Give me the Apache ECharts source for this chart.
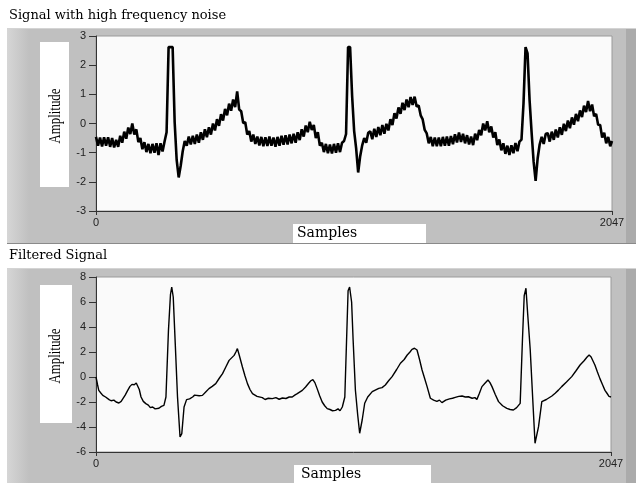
<!DOCTYPE html>
<html><head><meta charset="utf-8">
<script src="https://cdn.jsdelivr.net/npm/echarts@6/dist/echarts.min.js"></script>
<style>html,body{margin:0;padding:0;background:#fff}#c{width:636px;height:483px}</style>
</head><body><div id="c"></div>
<script>
// ---- data ----
const titles = ['Signal with high frequency noise', 'Filtered Signal'];
const yAxisName = 'Amplitude';
const xAxisName = 'Samples';
const xTicks = [0, 2047];
const topYTicks = [-3, -2, -1, 0, 1, 2, 3];
const bottomYTicks = [-6, -4, -2, 0, 2, 4, 6, 8];
const noisyStep = 8; // one value every 8 samples, last value at 2047
const noisyValues = [
 -0.46, -0.76, -0.48, -0.79, -0.47, -0.76, -0.47, -0.8,
 -0.5, -0.82, -0.56, -0.8, -0.42, -0.66, -0.28, -0.52,
 -0.14, -0.36, 0.0, -0.38, -0.2, -0.64, -0.5, -0.88,
 -0.64, -0.98, -0.7, -1.02, -0.7, -1.0, -0.68, -1.08,
 -0.68, -0.96, -0.62, -0.3, 2.62, 2.62, 2.62, 0.05,
 -1.25, -1.85, -1.45, -0.95, -0.6, -0.76, -0.45, -0.72,
 -0.42, -0.7, -0.38, -0.66, -0.3, -0.56, -0.2, -0.47,
 -0.13, -0.38, 0.0, -0.24, 0.15, -0.08, 0.32, 0.1,
 0.5, 0.28, 0.68, 0.44, 0.82, 0.56, 1.1, 0.48,
 0.42, 0.02, 0.04, -0.38, -0.26, -0.62, -0.38, -0.7,
 -0.45, -0.75, -0.46, -0.78, -0.47, -0.77, -0.45, -0.76,
 -0.48, -0.8, -0.46, -0.76, -0.42, -0.73, -0.4, -0.72,
 -0.38, -0.68, -0.35, -0.66, -0.3, -0.57, -0.2, -0.45,
 -0.07, -0.3, 0.06, -0.22, -0.05, -0.5, -0.3, -0.76,
 -0.66, -0.98, -0.7, -1.02, -0.72, -1.03, -0.7, -1.0,
 -0.68, -0.98, -0.66, -0.6, -0.36, 2.62, 2.62, 0.95,
 -0.25, -0.85, -1.68, -1.12, -0.75, -0.5, -0.66, -0.32,
 -0.27, -0.54, -0.18, -0.46, -0.12, -0.4, -0.05, -0.35,
 -0.01, -0.24, 0.15, -0.05, 0.35, 0.17, 0.55, 0.33,
 0.71, 0.46, 0.82, 0.56, 0.91, 0.64, 0.92, 0.58,
 0.62, 0.28, 0.14, -0.22, -0.34, -0.68, -0.46, -0.78,
 -0.48, -0.78, -0.48, -0.78, -0.46, -0.76, -0.45, -0.76,
 -0.43, -0.71, -0.37, -0.65, -0.31, -0.63, -0.35, -0.68,
 -0.4, -0.72, -0.45, -0.74, -0.35, -0.57, -0.22, -0.4,
 0.0, -0.24, 0.08, -0.3, -0.1, -0.48, -0.3, -0.74,
 -0.55, -0.92, -0.68, -1.04, -0.76, -1.08, -0.75, -1.02,
 -0.67, -0.95, -0.62, -0.55, 0.7, 2.62, 2.4, 0.8,
 -0.3, -1.3, -1.97, -1.2, -0.72, -0.46, -0.7, -0.36,
 -0.33, -0.62, -0.28, -0.56, -0.21, -0.48, -0.13, -0.39,
 -0.01, -0.26, 0.1, -0.16, 0.21, -0.04, 0.33, 0.08,
 0.45, 0.22, 0.61, 0.39, 0.77, 0.42, 0.65, 0.25,
 0.33, -0.04, -0.05, -0.48, -0.32, -0.68, -0.46, -0.78,
 -0.6
];
const filteredSamples = [
 0, 6, 11, 20, 27, 38, 45, 52, 60, 71, 80, 91, 100, 106, 116, 126, 135, 143, 152, 160,
 165, 172, 179, 188, 198, 208, 216, 225, 235, 242, 250, 260, 270, 278, 288, 296, 301, 307, 315, 324,
 334, 341, 350, 360, 372, 384, 392, 397, 410, 423, 436, 449, 462, 476, 490, 503, 516, 529, 540, 549,
 556, 562, 570, 582, 592, 602, 612, 622, 640, 661, 672, 685, 701, 715, 728, 741, 755, 768, 780, 790,
 800, 820, 833, 846, 854, 862, 870, 879, 889, 899, 909, 919, 930, 940, 952, 962, 970, 979, 989, 1002,
 1008, 1012, 1016, 1022, 1031, 1040, 1048, 1058, 1068, 1080, 1098, 1110, 1124, 1137, 1150, 1163, 1177, 1195, 1210, 1225,
 1237, 1248, 1256, 1266, 1276, 1286, 1296, 1306, 1316, 1329, 1342, 1355, 1365, 1375, 1390, 1405, 1417, 1428, 1442, 1455,
 1468, 1480, 1495, 1506, 1514, 1524, 1534, 1546, 1558, 1566, 1574, 1587, 1600, 1616, 1633, 1646, 1659, 1672, 1686, 1695,
 1702, 1709, 1716, 1726, 1736, 1745, 1759, 1772, 1790, 1812, 1825, 1838, 1851, 1870, 1891, 1908, 1924, 1940, 1952, 1960,
 1968, 1983, 1993, 2003, 2013, 2023, 2031, 2039, 2047
];
const filteredValues = [
 0.0, -0.6, -1.07, -1.3, -1.47, -1.6, -1.75, -1.81, -1.9, -1.85, -2.0, -2.08, -1.95, -1.87, -1.45, -1.07, -0.75, -0.59, -0.62, -0.48,
 -0.48, -1.0, -1.6, -1.95, -2.13, -2.25, -2.45, -2.4, -2.55, -2.4, -2.5, -2.35, -2.27, -1.6, 3.73, 6.6, 7.2, 6.4, 2.67, -1.6,
 -4.8, -4.53, -2.4, -1.81, -1.75, -1.6, -1.45, -1.33, -1.5, -1.47, -1.2, -0.93, -0.75, -0.53, -0.1, 0.27, 0.8, 1.33, 1.55, 1.73,
 2.0, 2.27, 1.7, 0.8, 0.1, -0.53, -1.0, -1.33, -1.55, -1.65, -1.8, -1.7, -1.73, -1.65, -1.78, -1.68, -1.72, -1.6, -1.6, -1.45,
 -1.33, -1.07, -0.8, -0.48, -0.3, -0.21, -0.45, -0.93, -1.5, -2.0, -2.3, -2.53, -2.6, -2.7, -2.67, -2.55, -2.7, -2.4, -1.6, 6.9,
 7.2, 7.1, 6.0, 2.96, -1.04, -3.0, -4.5, -3.44, -2.1, -1.6, -1.17, -1.05, -0.91, -0.85, -0.64, -0.3, 0.03, 0.6, 1.1, 1.4,
 1.76, 2.0, 2.21, 2.3, 2.16, 1.4, 0.56, -0.1, -0.77, -1.7, -1.85, -1.95, -1.85, -2.05, -1.85, -1.75, -1.7, -1.63, -1.55, -1.52,
 -1.6, -1.58, -1.7, -1.65, -1.79, -1.3, -0.77, -0.5, -0.24, -0.45, -0.77, -1.4, -1.97, -2.3, -2.51, -2.6, -2.64, -2.45, -2.11, 2.96,
 6.5, 7.1, 5.0, 2.16, -1.8, -5.3, -3.97, -1.97, -1.8, -1.52, -1.3, -1.05, -0.77, -0.4, 0.03, 0.5, 0.96, 1.3, 1.6, 1.76,
 1.6, 0.96, 0.4, -0.13, -0.6, -1.07, -1.3, -1.55, -1.6
];

// ---- build ----
const noisyData = noisyValues.map((v, i) => [Math.min(i * noisyStep, xTicks[1]), v]);
const filteredData = filteredSamples.map((s, i) => [s, filteredValues[i]]);

const chart = echarts.init(document.getElementById('c'), null, {renderer: 'canvas'});

const tickFont = {fontFamily: '"Liberation Sans", Arial, sans-serif', fontSize: 11, color: '#222'};
function xAxisCfg(gi) {
  return {
    gridIndex: gi, type: 'value', min: xTicks[0], max: xTicks[1], interval: xTicks[1] - xTicks[0],
    axisLine: {onZero: false, lineStyle: {color: '#333', width: 1}},
    axisTick: {length: 4, lineStyle: {color: '#333'}},
    axisLabel: Object.assign({margin: 6, formatter: v => String(v)}, tickFont),
    splitLine: {show: false}
  };
}
function yAxisCfg(gi, ticks) {
  return {
    gridIndex: gi, type: 'value', min: ticks[0], max: ticks[ticks.length - 1], interval: ticks[1] - ticks[0],
    axisLine: {show: true, onZero: false, lineStyle: {color: '#333', width: 1}},
    axisTick: {show: true, length: 7, lineStyle: {color: '#333'}},
    axisLabel: Object.assign({margin: 10, formatter: v => String(v)}, tickFont),
    splitLine: {show: false}
  };
}

function panel(y0, y1, withBottom) {
  const els = [
    {type: 'rect', z: -5, shape: {x: 7, y: y0, width: 629, height: y1 - y0}, style: {fill: '#c0c0c0'}},
    {type: 'rect', z: -5, z2: 1, shape: {x: 7, y: y0, width: 22, height: y1 - y0},
      style: {fill: new echarts.graphic.LinearGradient(0, 0, 1, 0, [{offset: 0, color: '#d6d6d6'}, {offset: 1, color: '#c0c0c0'}])}},
    {type: 'rect', z: -5, z2: 1, shape: {x: 626, y: y0, width: 10, height: y1 - y0}, style: {fill: '#ababab'}},
    {type: 'rect', z: -5, z2: 2, shape: {x: 7, y: y0, width: 629, height: 1}, style: {fill: '#d4d4d4'}}
  ];
  if (withBottom) els.push({type: 'rect', z: -5, z2: 2, shape: {x: 7, y: y1 - 1, width: 629, height: 1}, style: {fill: '#8a8a8a'}});
  return els;
}
function labelBox(x, y, w, h) {
  return {type: 'rect', z: -4, shape: {x: x, y: y, width: w, height: h}, style: {fill: '#ffffff'}};
}
function ampText(cx, cy) {
  return {type: 'text', z: -3, x: cx, y: cy, rotation: Math.PI / 2, scaleX: 0.8,
    style: {text: yAxisName, font: '16px "Liberation Serif", "Times New Roman", serif', fill: '#000', align: 'center', verticalAlign: 'middle'}};
}
function samplesText(x, y) {
  return {type: 'text', z: -3, x: x, y: y,
    style: {text: xAxisName, font: '14px "DejaVu Serif", serif', fill: '#000', align: 'left', verticalAlign: 'top'}};
}

const option = {
  animation: false,
  backgroundColor: '#ffffff',
  title: [
    {text: titles[0], left: 9, top: 9, padding: 0, textStyle: {fontFamily: '"DejaVu Serif", serif', fontSize: 13, fontWeight: 'normal', color: '#000'}},
    {text: titles[1], left: 9, top: 249, padding: 0, textStyle: {fontFamily: '"DejaVu Serif", serif', fontSize: 13, fontWeight: 'normal', color: '#000'}}
  ],
  grid: [
    {left: 96, top: 36, width: 516, height: 175, show: true, backgroundColor: '#fafafa', borderColor: '#9a9a9a', borderWidth: 1},
    {left: 96, top: 277, width: 515, height: 175, show: true, backgroundColor: '#fafafa', borderColor: '#9a9a9a', borderWidth: 1}
  ],
  xAxis: [xAxisCfg(0), xAxisCfg(1)],
  yAxis: [yAxisCfg(0, topYTicks), yAxisCfg(1, bottomYTicks)],
  series: [
    {type: 'line', name: titles[0], xAxisIndex: 0, yAxisIndex: 0, data: noisyData, showSymbol: false,
      lineStyle: {color: '#000', width: 2.6}, silent: true},
    {type: 'line', name: titles[1], xAxisIndex: 1, yAxisIndex: 1, data: filteredData, showSymbol: false,
      lineStyle: {color: '#000', width: 1.4}, silent: true}
  ],
  graphic: {elements: [].concat(
    panel(28, 244, true),
    panel(268, 483, false),
    [labelBox(40, 42, 29, 145), labelBox(40, 285, 32, 138),
     labelBox(293, 224, 133, 19), labelBox(294, 465, 137, 18),
     ampText(55.5, 116), ampText(56, 356),
     samplesText(297, 226), samplesText(301, 467)]
  )}
};
chart.setOption(option);
</script></body></html>
